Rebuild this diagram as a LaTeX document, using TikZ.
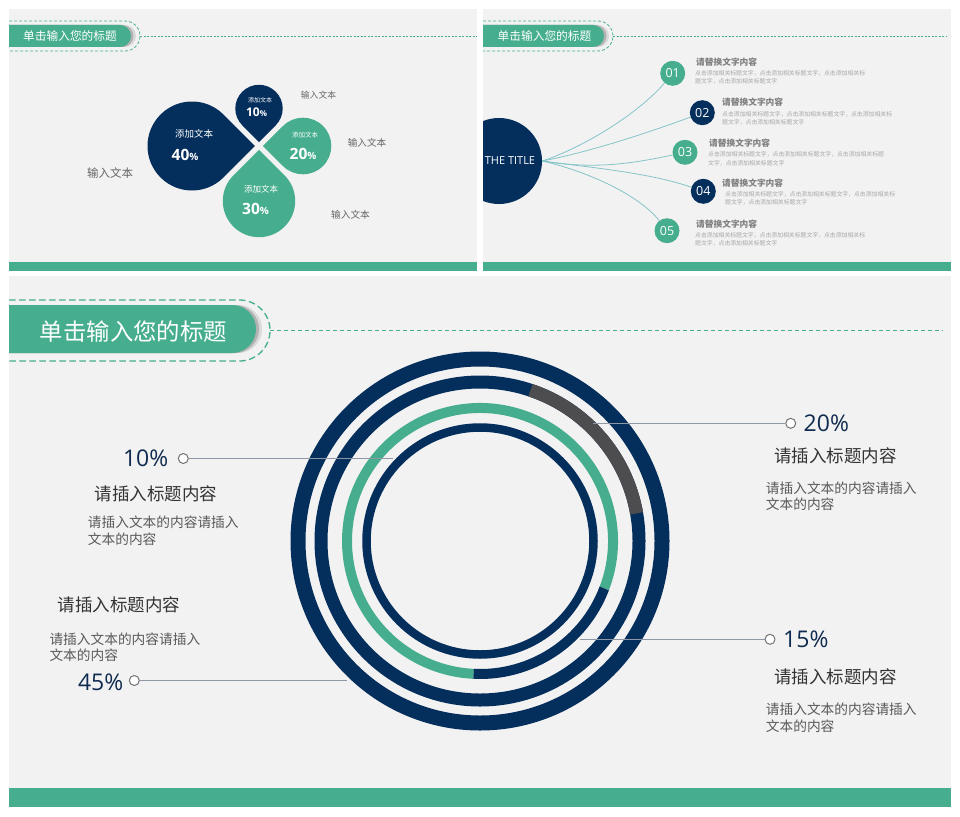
\documentclass[tikz,border=0pt]{standalone}
\usepackage{fontspec}
\setmainfont{Open Sans}
\newfontfamily\cjk{Noto Sans CJK SC}
\usetikzlibrary{calc}
\definecolor{deepblue}{HTML}{042E5C}
\definecolor{jade}{HTML}{46AE8E}
\definecolor{slate}{HTML}{4D4D50}
\definecolor{panelbg}{HTML}{F2F2F2}
\definecolor{wirecol}{HTML}{85C4C9}
\definecolor{leader}{HTML}{8D97A5}
\definecolor{inkblue}{HTML}{0F2B4F}
\newcommand{\fsz}[1]{\fontsize{#1}{#1}\selectfont}
\newcommand{\petal}[5]{\fill[#1] ($(#2,#3)+(#5:{#4*sqrt(2)})$) -- ($(#2,#3)+(#5+45:#4)$) arc[start angle = #5+45, end angle = #5+315, radius = #4] -- cycle;}
\newcommand{\tab}[5]{\fill[#1] (#2,#3) -- (#4,#3) arc[start angle = -90, end angle = 90, radius = #5] -- (#2,{#3+2*#5}) -- cycle;}
\tikzset{
  >=latex,
  seam/.style = {jade, line width = 0.8pt, dash pattern = on 3pt off 2pt},
  white text/.style = {text = white, inner sep = 0pt},
  caption/.style = {text = black!60, inner sep = 0pt},
  numdot/.style = {circle, minimum size = 25pt, inner sep = 0pt, text = white, font = \fsz{12.5}},
  wire/.style = {draw = wirecol, line width = 0.8pt},
  topic/.style = {text = black!50, inner sep = 0pt, anchor = west, font = \cjk\bfseries\fsz{8.7}},
  topicbody/.style = {text = black!35, inner sep = 0pt, anchor = west, align = left, font = \cjk\fontsize{5.86}{8.4}\selectfont},
  stalk/.style = {draw = leader, line width = 1pt},
  knob/.style = {circle, draw = black!55, fill = white, line width = 1pt, minimum size = 10pt, inner sep = 0pt},
  pct/.style = {text = inkblue, inner sep = 0pt, font = \fsz{23}},
  headline/.style = {text = black!80, inner sep = 0pt, anchor = west, font = \cjk\fsz{17.5}},
  blurb/.style = {text = black!65, inner sep = 0pt, anchor = west, align = left, font = \cjk\fontsize{13.7}{16.5}\selectfont}
}

\begin{document}
\begin{tikzpicture}[x = 1pt, y = -1pt, line join = round]
    \useasboundingbox (0,0) rectangle (960,816);
    \fill[white] (0,0) rectangle (960,816);
    \fill[panelbg] (9,9) rectangle (477,271);
    \fill[panelbg] (483,9) rectangle (951,271);
    \fill[panelbg] (9,276) rectangle (951,807);
    \fill[jade] (9,262) rectangle (477,271);
    \fill[jade] (483,262) rectangle (951,271);
    \fill[jade] (9,788) rectangle (951,807);

    \tab{gray!30}{9}{25}{125}{11}
    \tab{gray!60}{9}{25}{122.5}{11}
    \tab{jade}{9}{25}{120}{11}
    \draw[seam] (9,21) -- (125,21) arc[start angle = -90, end angle = 90, radius = 15] -- (9,51);
    \draw[jade, line width = 0.7pt, dash pattern = on 2pt off 1.5pt] (140,36) -- (477,36);
    \node[white text, font = \cjk\fsz{11.7}] (head1) at (70,36) {单击输入您的标题};

    \petal{deepblue}{192}{146}{44.5}{0}
    \petal{deepblue}{259}{108.5}{23.7}{90}
    \petal{jade}{303}{146}{28.3}{180}
    \petal{jade}{259}{201}{36.2}{-90}
    \node[white text, font = \cjk\fsz{9.5}] (add40) at (194,134) {添加文本};
    \node[white text, font = \bfseries\fsz{15.5}] (val40) at (185,155) {40{\fsz{10}\%}};
    \node[white text, font = \cjk\fsz{6}] (add10) at (260,100) {添加文本};
    \node[white text, font = \bfseries\fsz{12}] (val10) at (256.5,112) {10{\fsz{8}\%}};
    \node[white text, font = \cjk\fsz{6.5}] (add20) at (305,135) {添加文本};
    \node[white text, font = \bfseries\fsz{15.5}] (val20) at (303,154) {20{\fsz{10}\%}};
    \node[white text, font = \cjk\fsz{8.5}] (add30) at (261,189) {添加文本};
    \node[white text, font = \bfseries\fsz{15.5}] (val30) at (255.5,209) {30{\fsz{10}\%}};
    \node[caption, font = \cjk\fsz{8.8}] (lab10) at (318.5,95) {输入文本};
    \node[caption, font = \cjk\fsz{9.6}] (lab20) at (367,143) {输入文本};
    \node[caption, font = \cjk\fsz{9.7}] (lab30) at (350.5,215) {输入文本};
    \node[caption, font = \cjk\fsz{11.5}] (lab40) at (110,173) {输入文本};

    \tab{gray!30}{483}{25}{598}{11}
    \tab{gray!60}{483}{25}{595.5}{11}
    \tab{jade}{483}{25}{593}{11}
    \draw[seam] (483,21) -- (598,21) arc[start angle = -90, end angle = 90, radius = 15] -- (483,51);
    \draw[jade, line width = 0.7pt, dash pattern = on 2pt off 1.5pt] (613,36) -- (947,36);
    \node[white text, font = \cjk\fsz{11.7}] (head2) at (544.5,36) {单击输入您的标题};

    \begin{scope}
        \clip (483,9) rectangle (951,271);
        \node[circle, fill = deepblue, minimum size = 86pt, inner sep = 0pt] (core) at (499,161) {};
    \end{scope}
    \node[white text, font = \fsz{11}] (coretext) at (510,161) {THE TITLE};
    \node[numdot, fill = jade] (n1) at (672.7,73.3) {01};
    \node[numdot, fill = deepblue] (n2) at (702.3,112.7) {02};
    \node[numdot, fill = jade] (n3) at (685,152.3) {03};
    \node[numdot, fill = deepblue] (n4) at (703.3,191.3) {04};
    \node[numdot, fill = jade] (n5) at (667,230.7) {05};
    \draw[wire] (core.east) .. controls (585,147) and (640,112) .. (n1);
    \draw[wire] (core.east) .. controls (590,152) and (650,132) .. (n2);
    \draw[wire] (core.east) .. controls (595,170) and (635,163) .. (n3);
    \draw[wire] (core.east) .. controls (595,168) and (650,173) .. (n4);
    \draw[wire] (core.east) .. controls (590,172) and (640,196) .. (n5);
    \node[topic] (topic1) at (696,61.7) {请替换文字内容};
    \node[topicbody] (text1) at (695,77.5) {点击添加相关标题文字，点击添加相关标题文字，点击添加相关标\\题文字，点击添加相关标题文字};
    \node[topic] (topic2) at (722,102.3) {请替换文字内容};
    \node[topicbody] (text2) at (722,118.2) {点击添加相关标题文字，点击添加相关标题文字，点击添加相关标\\题文字，点击添加相关标题文字};
    \node[topic] (topic3) at (709,143.3) {请替换文字内容};
    \node[topicbody] (text3) at (708,158.8) {点击添加相关标题文字，点击添加相关标题文字，点击添加相关标题\\文字，点击添加相关标题文字};
    \node[topic] (topic4) at (722,183.3) {请替换文字内容};
    \node[topicbody] (text4) at (725,198.5) {点击添加相关标题文字，点击添加相关标题文字，点击添加相关标\\题文字，点击添加相关标题文字};
    \node[topic] (topic5) at (696,224) {请替换文字内容};
    \node[topicbody] (text5) at (695,239.4) {点击添加相关标题文字，点击添加相关标题文字，点击添加相关标\\题文字，点击添加相关标题文字};

    \tab{gray!30}{9}{305}{238}{24}
    \tab{gray!60}{9}{305}{235}{24}
    \tab{jade}{9}{305}{232}{24}
    \draw[jade, line width = 1.3pt, dash pattern = on 6.5pt off 3.5pt] (9,300) -- (239.5,300) arc[start angle = -90, end angle = 90, radius = 30.5] -- (9,361);
    \draw[jade, line width = 1pt, dash pattern = on 4pt off 3pt] (270,330.5) -- (943,330.5);
    \node[white text, font = \cjk\fsz{23.4}] (head3) at (133.5,331.5) {单击输入您的标题};

    \coordinate (hub) at (480,541);
    \draw[deepblue, line width = 15pt] (hub) circle[radius = 182];
    \draw[deepblue, line width = 13pt] (hub) circle[radius = 159];
    \draw[slate, line width = 13pt] ($(hub)+(-71.5:159)$) arc[start angle = -71.5, end angle = -10, radius = 159];
    \draw[jade, line width = 10pt] ($(hub)+(20.9:133)$) arc[start angle = 20.9, end angle = -267.2, radius = 133];
    \draw[deepblue, line width = 10pt] ($(hub)+(20.9:133)$) arc[start angle = 20.9, end angle = 92.8, radius = 133];
    \draw[deepblue, line width = 8.5pt] (hub) circle[radius = 113.5];

    \node[knob] (k10) at (183.3,458.5) {};
    \coordinate (e10) at (393,458.5);
    \draw[stalk] (k10) -- (e10);
    \node[knob] (k20) at (790.7,423.3) {};
    \coordinate (e20) at (593,423.3);
    \draw[stalk] (e20) -- (k20);
    \node[knob] (k15) at (770,639.3) {};
    \coordinate (e15) at (580,639.3);
    \draw[stalk] (e15) -- (k15);
    \node[knob] (k45) at (134.3,680.5) {};
    \coordinate (e45) at (347,680.5);
    \draw[stalk] (k45) -- (e45);

    \node[pct, anchor = east] (v10) at (168.5,458.3) {10\%};
    \node[pct, anchor = west] (v20) at (803.5,423.3) {20\%};
    \node[pct, anchor = west] (v15) at (783,639.3) {15\%};
    \node[pct, anchor = east] (v45) at (123.5,682.2) {45\%};
    \node[headline] (t10) at (94.3,493.3) {请插入标题内容};
    \node[headline] (t20) at (774,456) {请插入标题内容};
    \node[headline] (t15) at (774,676.7) {请插入标题内容};
    \node[headline] (t45) at (57.3,605) {请插入标题内容};
    \node[blurb] (b10) at (87.7,530.8) {请插入文本的内容请插入\\文本的内容};
    \node[blurb] (b20) at (765.7,496.3) {请插入文本的内容请插入\\文本的内容};
    \node[blurb] (b15) at (765.7,717.5) {请插入文本的内容请插入\\文本的内容};
    \node[blurb] (b45) at (49.3,647.3) {请插入文本的内容请插入\\文本的内容};

\end{tikzpicture}
\end{document}
